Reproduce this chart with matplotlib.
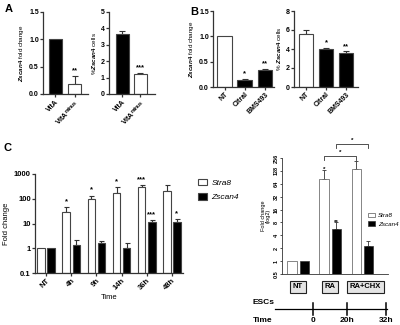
import numpy as np
import matplotlib
matplotlib.use("Agg")
import matplotlib.pyplot as plt

plt.rcParams['font.family'] = ['Liberation Sans', 'DejaVu Sans']
plt.rcParams['font.weight'] = 'bold'
plt.rcParams['mathtext.fontset'] = 'custom'
plt.rcParams['mathtext.it'] = 'Liberation Sans:italic:bold'
plt.rcParams['mathtext.rm'] = 'Liberation Sans:bold'
plt.rcParams['mathtext.bf'] = 'Liberation Sans:bold'

# ---- panel A: VitA vs VitA minus
vita_labels = ["VitA", r"VitA$^{\rm minus}$"]
vita_fold = [1.0, 0.18]
vita_fold_err = [0.0, 0.15]
vita_fold_sig = ["", "**"]
vita_pct = [3.65, 1.2]
vita_pct_err = [0.22, 0.1]
vita_pct_sig = ["", "***"]

# ---- panel B: inhibitors
inh_labels = ["NT", "Citral", "BMS493"]
inh_fold = [1.0, 0.14, 0.33]
inh_fold_err = [0.0, 0.02, 0.03]
inh_fold_sig = ["", "*", "**"]
inh_pct = [5.6, 3.95, 3.55]
inh_pct_err = [0.4, 0.15, 0.2]
inh_pct_sig = ["", "*", "**"]

# ---- panel C: RA time course (log10)
time_labels = ["NT", "4h", "9h", "14h", "36h", "48h"]
stra8 = [1, 30, 95, 170, 290, 200]
stra8_err = [0, 15, 35, 120, 60, 150]
stra8_sig = ["", "*", "*", "*", "***", ""]
zscan4 = [1, 1.4, 1.65, 1.0, 11, 11]
zscan4_err = [0, 0.7, 0.25, 0.6, 2.5, 4]
zscan4_sig = ["", "", "", "", "***", "*"]

# ---- right panel: CHX (log2)
chx_labels = ["NT", "RA", "RA+CHX"]
chx_stra8 = [1, 84, 139]
chx_stra8_err = [0, 53, 78]
chx_stra8_sig = ["", "*", ""]
chx_zscan4 = [1, 5.7, 2.3]
chx_zscan4_err = [0, 2.5, 0.6]
chx_zscan4_sig = ["", "**", ""]
log2_ticks = [0.5, 1, 2, 4, 8, 16, 32, 64, 128, 256]
timeline_labels = ["0", "20h", "32h"]

W, H = 400, 325
fig = plt.figure(figsize=(W / 100, H / 100), dpi=100)


def add_ax(l, t, r, b):
    return fig.add_axes([l / W, 1 - b / H, (r - l) / W, (b - t) / H])


def style(ax, lw=0.9, size=5):
    ax.spines[['top', 'right']].set_visible(False)
    for s in ['left', 'bottom']:
        ax.spines[s].set_linewidth(lw)
        ax.spines[s].set_color('#333333')
    ax.tick_params(labelsize=size, length=2, width=lw, pad=1, color='#333333')


def bar_panel(ax, labels, vals, errs, colors, sig, ylim, yticks, fmt, ylabel, xlim, width):
    x = np.arange(len(vals))
    ax.bar(x, vals, width, color=colors, edgecolor='#444444', linewidth=0.8, zorder=2)
    for xi, v, e, s in zip(x, vals, errs, sig):
        if e > 0:
            ax.errorbar(xi, v, yerr=[[0], [e]], fmt='none', ecolor='#333333',
                        elinewidth=0.8, capsize=2, capthick=0.8, zorder=1)
        if s:
            ax.text(xi, v + e + (ylim[1] - ylim[0]) * 0.02, s, ha='center', va='bottom',
                    fontsize=5.5, fontweight='bold')
    ax.set_xlim(*xlim)
    ax.set_ylim(*ylim)
    ax.set_yticks(yticks)
    ax.set_yticklabels([fmt.format(t) for t in yticks])
    ax.set_xticks(x)
    ax.set_xticklabels(labels, rotation=45, ha='right', rotation_mode='anchor')
    ax.set_ylabel(ylabel, fontsize=4.5, labelpad=2)
    style(ax)


# panel A
ax1 = add_ax(43, 12, 88, 94)
bar_panel(ax1, vita_labels, vita_fold, vita_fold_err, ['black', 'white'], vita_fold_sig,
          (0, 1.5), [0, 0.5, 1.0, 1.5], "{:.1f}", r"$\it{Zscan4}$ fold change",
          (-0.64, 1.7), 0.7)
ax2 = add_ax(109, 12, 155, 94)
bar_panel(ax2, vita_labels, vita_pct, vita_pct_err, ['black', 'white'], vita_pct_sig,
          (0, 5), [0, 1, 2, 3, 4, 5], "{:.0f}", r"%$\it{Zscan4}$ cells",
          (-0.72, 1.8), 0.72)

# panel B
ax3 = add_ax(213, 11, 274, 87)
bar_panel(ax3, inh_labels, inh_fold, inh_fold_err, ['white', 'black', 'black'], inh_fold_sig,
          (0, 1.5), [0, 0.5, 1.0, 1.5], "{:.1f}", r"$\it{Zscan4}$ fold change",
          (-0.57, 2.45), 0.72)
ax4 = add_ax(294, 11, 358, 87)
bar_panel(ax4, inh_labels, inh_pct, inh_pct_err, ['white', 'black', 'black'], inh_pct_sig,
          (0, 8), [0, 2, 4, 6, 8], "{:.0f}", r"% $\it{Zscan4}$ cells",
          (-0.6, 2.6), 0.68)

# panel C
ax5 = add_ax(35, 174, 183, 273)
xc = np.arange(len(time_labels))
low = 0.1
off, bw = 0.2, 0.3
b1 = ax5.bar(xc - off, np.array(stra8) - low, bw, bottom=low, color='white',
             edgecolor='#444444', linewidth=0.8, label='Stra8', zorder=2)
b2 = ax5.bar(xc + off, np.array(zscan4) - low, bw, bottom=low, color='black',
             edgecolor='#444444', linewidth=0.8, label='Zscan4', zorder=2)
for xs, vals, errs, sig in [(xc - off, stra8, stra8_err, stra8_sig),
                            (xc + off, zscan4, zscan4_err, zscan4_sig)]:
    for xi, v, e, s in zip(xs, vals, errs, sig):
        if e > 0:
            ax5.errorbar(xi, v, yerr=[[0], [e]], fmt='none', ecolor='#333333',
                         elinewidth=0.8, capsize=1.8, capthick=0.8, zorder=1)
        if s:
            ax5.text(xi, (v + e) * 1.25, s, ha='center', va='bottom', fontsize=5.5)
ax5.set_yscale('log')
ax5.set_ylim(0.1, 1000)
ax5.set_xlim(-0.44, 5.44)
ax5.set_yticks([0.1, 1, 10, 100, 1000])
ax5.set_yticklabels(["0.1", "1", "10", "100", "1000"])
ax5.minorticks_off()
ax5.set_xticks(xc)
ax5.set_xticklabels(time_labels, rotation=45, ha='right', rotation_mode='anchor')
ax5.set_ylabel("Fold change", fontsize=5.5, labelpad=3)
ax5.set_xlabel("Time", fontsize=5.5, labelpad=2)
style(ax5, size=5.5)
fig.legend(handles=[b1, b2], labels=['Stra8', 'Zscan4'], loc='upper left',
           bbox_to_anchor=(190 / W, 1 - 171 / H), bbox_transform=fig.transFigure,
           frameon=False, prop={'style': 'italic', 'weight': 'normal', 'size': 6},
           handlelength=1.1, handleheight=0.9, handletextpad=0.6, labelspacing=0.7)

# right panel (log2)
ax6 = add_ax(282, 158, 388, 274)
xr = np.arange(len(chx_labels))
low2 = 0.5
off2, bw2 = 0.19, 0.29
c1 = ax6.bar(xr - off2, np.array(chx_stra8) - low2, bw2, bottom=low2, color='white',
             edgecolor='#555555', linewidth=0.5, zorder=2)
c2 = ax6.bar(xr + off2, np.array(chx_zscan4) - low2, bw2, bottom=low2, color='black',
             edgecolor='#333333', linewidth=0.5, zorder=2)
for xs, vals, errs, sig in [(xr - off2, chx_stra8, chx_stra8_err, chx_stra8_sig),
                            (xr + off2, chx_zscan4, chx_zscan4_err, chx_zscan4_sig)]:
    for xi, v, e, s in zip(xs, vals, errs, sig):
        if e > 0:
            ax6.errorbar(xi, v, yerr=[[0], [e]], fmt='none', ecolor='#333333',
                         elinewidth=0.6, capsize=1.5, capthick=0.6, zorder=1)
        if s:
            ax6.text(xi, (v + e) * 1.0, s, ha='center', va='center', fontsize=4.5)
ax6.set_yscale('log', base=2)
ax6.set_ylim(0.5, 256)
ax6.set_xlim(-0.5, 2.8)
ax6.set_yticks(log2_ticks)
ax6.set_yticklabels([f"{t:g}" for t in log2_ticks], rotation=90, va='center')
ax6.minorticks_off()
ax6.set_xticks([])
ax6.set_ylabel("Fold change\n(log2)", fontsize=4, labelpad=2, linespacing=1.0)
style(ax6, lw=0.6, size=4)
ax6.tick_params(axis='y', length=1.5)
fig.legend(handles=[c1, c2], labels=['Stra8', 'Zscan4'], loc='upper left',
           bbox_to_anchor=(362 / W, 1 - 207 / H), bbox_transform=fig.transFigure,
           frameon=False, prop={'style': 'italic', 'weight': 'normal', 'size': 4.5},
           handlelength=1.2, handleheight=0.8, handletextpad=0.5, labelspacing=0.5)

# significance brackets above the right panel
tr = ax6.get_xaxis_transform()
for (xa, xb), yb in [((xr[1] - off2, xr[2] - off2), 1.017), ((xr[1] + off2, xr[2] + off2), 1.12)]:
    ax6.plot([xa, xa, xb, xb], [yb - 0.035, yb, yb, yb - 0.035], color='#333333',
             lw=0.6, transform=tr, clip_on=False)
    ax6.text((xa + xb) / 2, yb + 0.01, "*", ha='center', va='bottom', fontsize=4.5,
             transform=tr)

# treatment boxes
for lab, cx in zip(chx_labels, [298, 330, 365.5]):
    fig.text(cx / W, 1 - 287 / H, lab, ha='center', va='center', fontsize=5.5,
             fontweight='bold',
             bbox=dict(boxstyle='square,pad=0.35', fc='#e4e4e4', ec='#222222', lw=0.8))

# timeline
fig.text(253 / W, 1 - 302 / H, "ESCs", ha='left', va='center', fontsize=6, fontweight='bold')
fig.text(253 / W, 1 - 321 / H, "Time", ha='left', va='center', fontsize=6, fontweight='bold')
fig.add_artist(plt.Line2D([275 / W, 387 / W], [1 - 309 / H, 1 - 309 / H], color='black', lw=0.9))
for lab, px in zip(timeline_labels, [313, 347, 386]):
    fig.add_artist(plt.Line2D([px / W, px / W], [1 - 303 / H, 1 - 315 / H], color='black', lw=1.1))
    fig.text(px / W, 1 - 321 / H, lab, ha='center', va='center', fontsize=6, fontweight='bold')

# panel letters
fig.text(5 / W, 1 - 9 / H, "A", fontsize=8, fontweight='bold', va='center')
fig.text(190 / W, 1 - 12 / H, "B", fontsize=8, fontweight='bold', va='center')
fig.text(4 / W, 1 - 148 / H, "C", fontsize=8, fontweight='bold', va='center')

fig.savefig("out.png", dpi=100)
